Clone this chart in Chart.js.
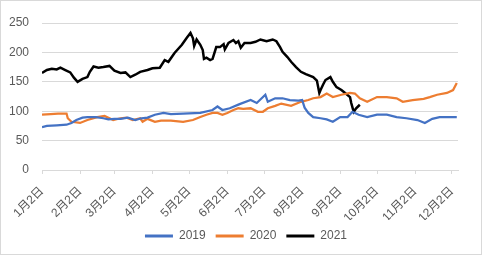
<!DOCTYPE html>
<html>
<head>
<meta charset="utf-8">
<script src="https://cdn.jsdelivr.net/npm/chart.js@4/dist/chart.umd.min.js"></script>
<style>
html,body{margin:0;padding:0;background:#fff;}
#wrap{width:482px;height:255px;position:relative;}
</style>
</head>
<body>
<div id="wrap"><canvas id="c" width="482" height="255"></canvas></div>
<script>
// Tick labels and their day offsets (days since Jan 2)
const tickLabels = ['1月2日','2月2日','3月2日','4月2日','5月2日','6月2日','7月2日','8月2日','9月2日','10月2日','11月2日','12月2日'];
const tickDays = [0,31,59,90,120,151,181,212,243,273,304,334];
const seriesNames = ['2019','2020','2021'];

// 2019
const days2019 = [0,4,12,20,24,28,33,37,44,50,54,59,64,70,76,81,86,92,99,105,115,129,139,143,147,153,161,170,175,182,184,190,196,202,209,212,214,217,221,227,232,237,243,249,253,258,265,273,281,289,297,306,312,318,324,330,338];
const values2019 = [73,75,76,77,80,85,89,90,90,88,86,87,87,89,85,88,89,94,97,95,96,97,102,108,102,105,112,119,114,128,116,122,122,119,118,119,106,97,90,88,86,82,90,90,99,94,90,94,94,90,88,85,80,87,90,90,90];

// 2020
const days2020 = [0,7,13,20,21,24,31,37,45,51,55,58,64,69,74,80,82,86,92,97,105,115,123,129,134,139,143,147,151,156,160,164,170,176,180,184,190,195,203,211,217,221,227,232,237,244,251,255,259,265,273,281,289,294,302,311,316,322,330,335,338];
const values2020 = [94,95,96,96,88,82,80,85,90,92,88,85,88,89,85,88,82,87,82,84,84,82,85,90,94,97,97,94,97,102,105,104,105,99,99,105,109,113,109,116,119,122,124,130,124,128,131,130,122,116,124,124,122,116,119,121,124,128,131,136,148];

// 2021
const days2021 = [0,4,8,12,15,19,23,26,29,33,37,39,42,46,50,55,59,64,68,72,76,80,86,90,96,100,103,108,114,118,121,123,124,126,129,131,132,134,137,139,142,145,148,149,152,156,158,160,162,165,170,174,178,183,188,191,194,196,200,203,207,211,215,221,224,226,227,229,231,235,237,240,244,247,251,252,254,256,259];
const values2021 = [165,170,172,171,174,170,166,157,150,155,158,167,176,174,175,177,169,165,166,158,162,167,170,173,174,187,184,199,213,225,233,224,211,222,213,204,189,191,187,189,209,209,214,205,216,221,216,219,208,216,216,218,222,219,222,219,209,201,192,184,175,167,163,158,152,131,136,145,153,158,150,141,136,131,124,114,99,105,111];

const colors = ['#4472C4','#ED7D31','#000000'];
const yTicks = [0,50,100,150,200,250];

function pts(d,v){ return d.map((x,i)=>({x:x,y:v[i]})); }

const FONT = '"Liberation Sans", "Noto Sans CJK SC", sans-serif';
const TXT = '#595959';
const GRID = '#d9d9d9';

const framePlugin = {
  id:'frame',
  afterLayout(chart){
    // centre the legend under the plot area like the original
    if (chart.legend) { chart.legend.left += 17; chart.legend.right += 17; }
  },
  afterDraw(chart){
    const ctx = chart.ctx;
    ctx.save();
    ctx.strokeStyle = GRID;
    ctx.lineWidth = 1;
    ctx.strokeRect(0.5,0.5,chart.width-1,chart.height-1);
    ctx.restore();
  }
};

new Chart(document.getElementById('c'), {
  type:'line',
  data:{
    datasets:[
      {label:seriesNames[0], data:pts(days2019,values2019), borderColor:colors[0], backgroundColor:colors[0], borderWidth:2.25, pointRadius:0, tension:0},
      {label:seriesNames[1], data:pts(days2020,values2020), borderColor:colors[1], backgroundColor:colors[1], borderWidth:2.25, pointRadius:0, tension:0},
      {label:seriesNames[2], data:pts(days2021,values2021), borderColor:colors[2], backgroundColor:colors[2], borderWidth:2.5, pointRadius:0, tension:0}
    ]
  },
  plugins:[framePlugin],
  options:{
    responsive:false,
    animation:false,
    layout:{padding:{top:23,right:24,bottom:3,left:0}},
    plugins:{
      tooltip:{enabled:false},
      legend:{
        position:'bottom',
        labels:{
          font:{family:FONT,size:12},
          color:TXT,
          boxWidth:28,
          boxHeight:3,
          padding:10,
          generateLabels(chart){
            const items = Chart.defaults.plugins.legend.labels.generateLabels(chart);
            items.forEach(it=>{ it.lineWidth=0; it.strokeStyle='rgba(0,0,0,0)'; });
            return items;
          }
        }
      }
    },
    scales:{
      x:{
        type:'linear',
        min:0,
        max:339,
        afterBuildTicks(scale){ scale.ticks = tickDays.map(v=>({value:v})); },
        afterFit(scale){ scale.height = 50; },
        ticks:{
          autoSkip:false,
          maxRotation:45,
          minRotation:45,
          font:{family:FONT,size:12},
          color:TXT,
          padding:10,
          callback(v){ const i = tickDays.indexOf(v); return i>=0 ? tickLabels[i] : ''; }
        },
        grid:{drawOnChartArea:false, drawTicks:true, tickLength:4, color:GRID},
        border:{display:true, color:GRID, width:1}
      },
      y:{
        min:0,
        max:250,
        afterBuildTicks(scale){ scale.ticks = yTicks.map(v=>({value:v})); },
        afterFit(scale){ scale.width = 42; },
        ticks:{font:{family:FONT,size:12}, color:TXT, padding:13},
        grid:{color:GRID, drawTicks:false, lineWidth:1},
        border:{display:false}
      }
    }
  }
});
</script>
</body>
</html>
